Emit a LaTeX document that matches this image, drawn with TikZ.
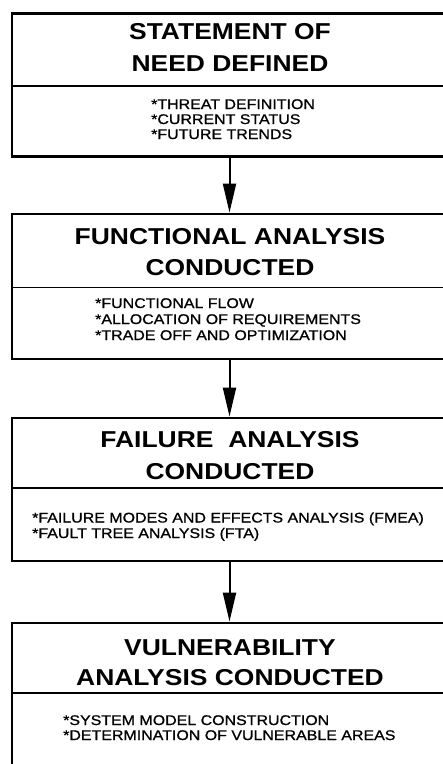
\documentclass[tikz,border=0pt]{standalone}
\usepackage{fontspec}
\usetikzlibrary{arrows.meta}
\newfontfamily\ttlfont{Liberation Sans}[FakeStretch=1.15]
\newfontfamily\bulfont{Liberation Sans}[FakeStretch=1.14, FakeBold=0.9]
\tikzset{
  boxframe/.style={draw=black, line width=2.8pt, fill=none, minimum width=435pt, inner sep=0pt},
  divline/.style={draw=black, line width=1.8pt},
  ttl/.style={anchor=base, inner sep=0pt, font=\ttlfont\bfseries\fontsize{23}{27}\selectfont},
  bul/.style={anchor=base west, inner sep=0pt, font=\bulfont\fontsize{14}{16}\selectfont},
  flow/.style={draw=black, line width=2pt, -{Triangle[length=29pt,width=13pt]}}
}
\begin{document}
\begin{tikzpicture}[x=1pt,y=-1pt]
\useasboundingbox[fill=white] (0,0) rectangle (443,764);
% boxes
\node[boxframe, minimum height=143pt] (b1) at (229.5,85) {};
\node[boxframe, minimum height=145pt] (b2) at (229.5,286.5) {};
\node[boxframe, minimum height=143pt] (b3) at (229.5,489.5) {};
\node[boxframe, minimum height=167pt] (b4) at (229.5,706.5) {};
% dividers
\coordinate (d1l) at (12,86);  \coordinate (d1r) at (447,86);
\coordinate (d2l) at (12,287.5); \coordinate (d2r) at (447,287.5);
\coordinate (d3l) at (12,488); \coordinate (d3r) at (447,488);
\coordinate (d4l) at (12,693); \coordinate (d4r) at (447,693);
\draw[divline] (d1l) -- (d1r);
\draw[divline] (d2l) -- (d2r);
\draw[divline] (d3l) -- (d3r);
\draw[divline] (d4l) -- (d4r);
% titles
\node[ttl] (t1a) at (230,39.5) {STATEMENT OF};
\node[ttl] (t1b) at (230,71) {NEED DEFINED};
\node[ttl] (t2a) at (230,244) {FUNCTIONAL ANALYSIS};
\node[ttl] (t2b) at (230,275) {CONDUCTED};
\node[ttl] (t3a) at (230,447) {FAILURE~~ANALYSIS};
\node[ttl] (t3b) at (230,479) {CONDUCTED};
\node[ttl] (t4a) at (230,655) {VULNERABILITY};
\node[ttl] (t4b) at (230,685) {ANALYSIS CONDUCTED};
% bullets
\node[bul] (u1a) at (151,109) {*THREAT DEFINITION};
\node[bul] (u1b) at (151,124) {*CURRENT STATUS};
\node[bul] (u1c) at (151,139) {*FUTURE TRENDS};
\node[bul] (u2a) at (95,308) {*FUNCTIONAL FLOW};
\node[bul] (u2b) at (95,324) {*ALLOCATION OF REQUIREMENTS};
\node[bul] (u2c) at (95,340) {*TRADE OFF AND OPTIMIZATION};
\node[bul] (u3a) at (32,522.5) {*FAILURE MODES AND EFFECTS ANALYSIS (FMEA)};
\node[bul] (u3b) at (32,538) {*FAULT TREE ANALYSIS (FTA)};
\node[bul] (u4a) at (63,725) {*SYSTEM MODEL CONSTRUCTION};
\node[bul] (u4b) at (63,740) {*DETERMINATION OF VULNERABLE AREAS};
% arrows
\draw[flow] (b1.south) -- (b2.north);
\draw[flow] (b2.south) -- (b3.north);
\draw[flow] (b3.south) -- (b4.north);
\end{tikzpicture}
\end{document}
